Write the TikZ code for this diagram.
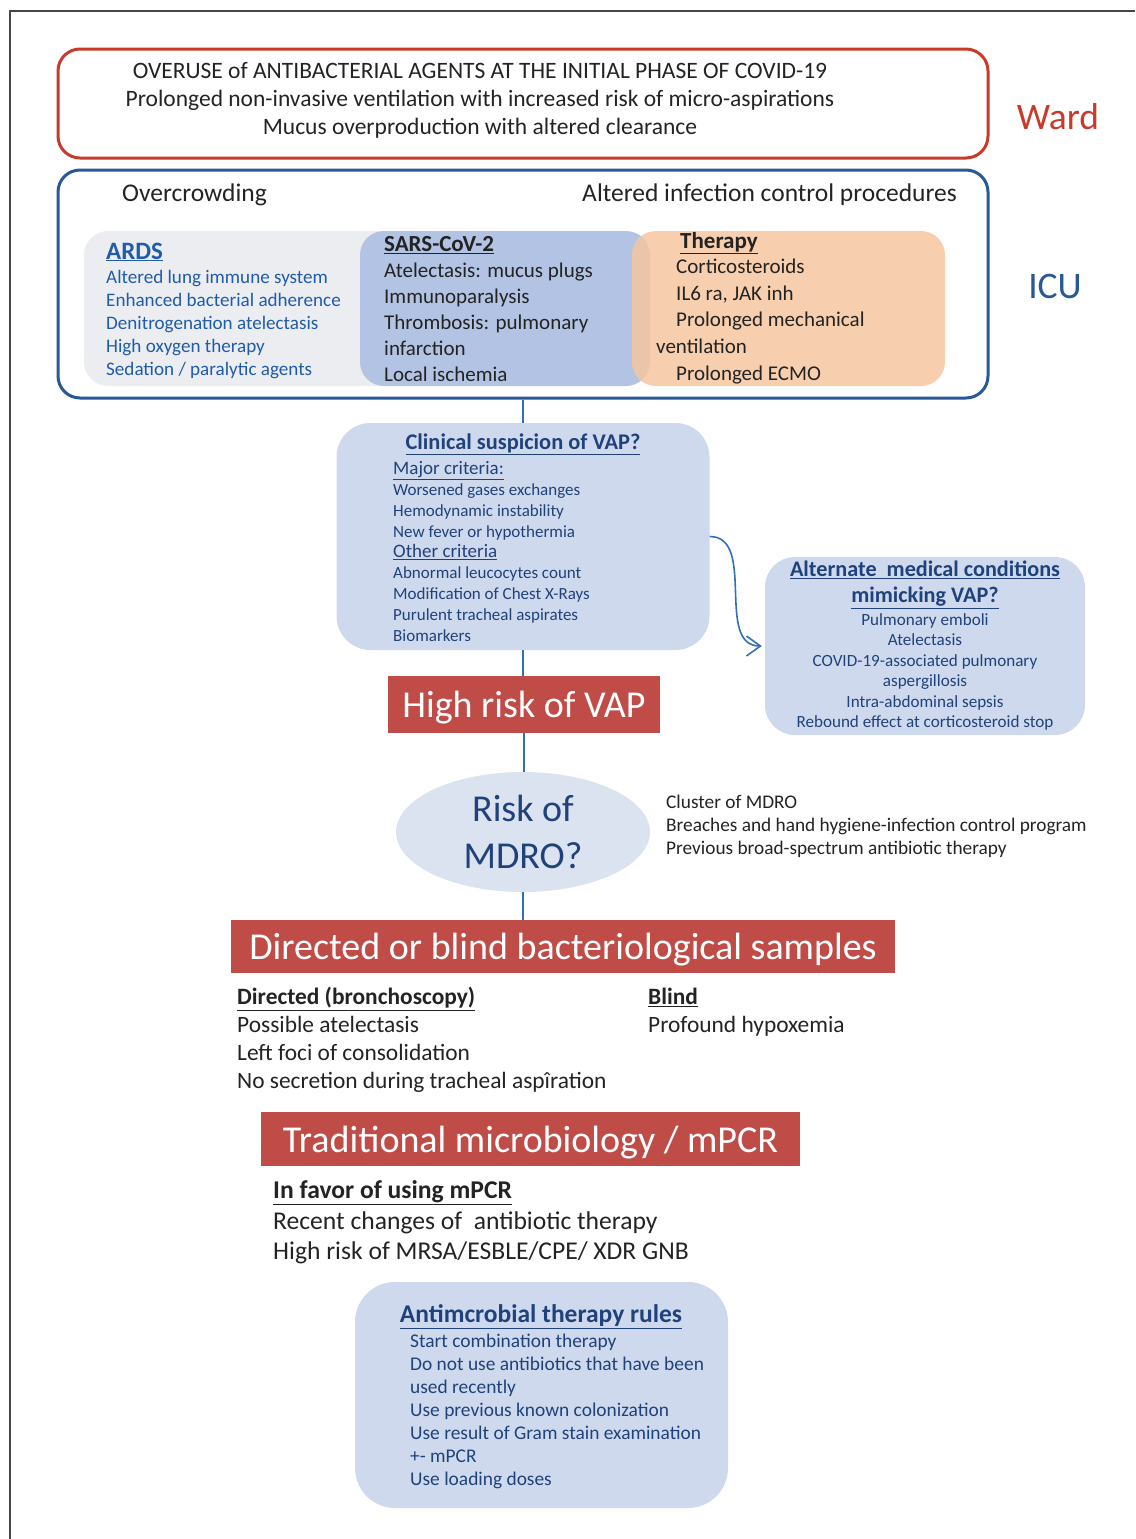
\documentclass[tikz,border=0pt]{standalone}
\usepackage{fontspec}
\setmainfont{Carlito}
\usetikzlibrary{arrows.meta,shapes.geometric}
\definecolor{wardred}{RGB}{200,58,42}
\definecolor{icublue}{RGB}{40,88,150}
\definecolor{ardsgray}{RGB}{236,237,241}
\definecolor{sarsblue}{RGB}{178,195,228}
\definecolor{therapyorange}{RGB}{246,198,160}
\definecolor{paleblue}{RGB}{207,217,237}
\definecolor{ovalblue}{RGB}{219,227,241}
\definecolor{boxred}{RGB}{192,76,72}
\definecolor{linkblue}{RGB}{50,112,182}
\definecolor{ardstext}{RGB}{32,92,168}
\definecolor{darkblue}{RGB}{32,66,122}
\definecolor{inktext}{RGB}{35,35,35}
\definecolor{framegray}{RGB}{70,70,70}
\newcommand\setfs[2]{\fontsize{#1}{#2}\selectfont}
\newcommand\uline[1]{\underline{#1}}
\begin{document}
\begin{tikzpicture}[x=1pt,y=-1pt,
  zone/.style={draw, line width=3pt, rounded corners=22pt},
  panel/.style={rounded corners=24pt, inner sep=0pt},
  redbar/.style={fill=boxred, text=white, inner sep=0pt, text depth=0pt, font=\setfs{38}{40}},
  link/.style={draw=linkblue, line width=1.6pt},
  txt/.style={inner sep=0pt, align=left}]
\useasboundingbox (0,0) rectangle (1135,1539);
\draw[framegray, line width=2.5pt] (1135,11) -- (10,11) -- (10,1539);

% Ward and ICU frames
\node[zone, draw=wardred, minimum width=930pt, minimum height=109pt] (ward) at (523,103.5) {};
\node[zone, draw=icublue, minimum width=930pt, minimum height=228pt] (icu) at (523,284) {};
\node[txt, align=center, text=inktext, font=\setfs{23.5}{28}] (wardtext) at (480,100)
  {OVERUSE of ANTIBACTERIAL AGENTS AT THE INITIAL PHASE OF COVID-19\\
   Prolonged non-invasive ventilation with increased risk of micro-aspirations\\
   Mucus overproduction with altered clearance};
\node[text=wardred, font=\setfs{37.5}{40}] (wardlabel) at (1058,117) {Ward};
\node[text=icublue, font=\setfs{37.5}{40}] (iculabel) at (1055,286) {ICU};
\node[txt, anchor=west, text=inktext, font=\setfs{25.5}{28}] (crowd) at (122,195) {Overcrowding};
\node[txt, anchor=east, text=inktext, font=\setfs{25.5}{28}] (control) at (957,195) {Altered infection control procedures};

% three overlapping panels
\node[panel, fill=ardsgray, minimum width=316pt, minimum height=155pt] (ards) at (242,308.5) {};
\node[panel, fill=sarsblue, minimum width=290pt, minimum height=155pt] (sars) at (505,308.5) {};
\node[panel, fill=therapyorange, fill opacity=0.85, minimum width=313pt, minimum height=155pt] (therapy) at (788.5,308.5) {};

\node[txt, anchor=west, text=ardstext, font=\bfseries\setfs{25}{27}] (ardstitle) at (106,252) {\uline{ARDS}};
\node[txt, anchor=west, text=ardstext, font=\setfs{19.1}{23}] (ardsitems) at (106,325)
  {Altered lung immune system\\Enhanced bacterial adherence\\Denitrogenation atelectasis\\
   High oxygen therapy\\Sedation / paralytic agents};
\node[txt, anchor=west, text=inktext, font=\bfseries\setfs{23}{25}] (sarstitle) at (384,245) {\uline{SARS-CoV-2}};
\node[txt, anchor=west, text=inktext, font=\setfs{21}{26}] (sarsitems) at (384,322)
  {Atelectasis: mucus plugs\\Immunoparalysis\\Thrombosis: pulmonary\\infarction\\Local ischemia};
\node[txt, anchor=west, text=inktext, font=\bfseries\setfs{23}{25}] (therapytitle) at (680,243) {\uline{Therapy}};
\node[txt, anchor=west, text=inktext, font=\setfs{21}{26.7}] (therapyitems) at (656,321.5)
  {\hspace*{20pt}Corticosteroids\\\hspace*{20pt}IL6 ra, JAK inh\\\hspace*{20pt}Prolonged mechanical\\
   ventilation\\\hspace*{20pt}Prolonged ECMO};

% clinical suspicion
\node[panel, fill=paleblue, rounded corners=34pt, minimum width=373pt, minimum height=227pt] (vap) at (523,536.5) {};
\node[text=darkblue, inner sep=0pt, font=\bfseries\setfs{22.4}{24}] (vaptitle) at (523,444) {\uline{Clinical suspicion of VAP?}};
\node[txt, anchor=west, text=darkblue, font=\setfs{17}{20.9}] (vapitems) at (393,551.5)
  {{\setfs{19}{20.9}\uline{Major criteria:}}\\Worsened gases exchanges\\Hemodynamic instability\\
   New fever or hypothermia\\{\setfs{19}{20.9}\uline{Other criteria}}\\Abnormal leucocytes count\\
   Modification of Chest X-Rays\\Purulent tracheal aspirates\\Biomarkers};

% alternate conditions
\node[panel, fill=paleblue, rounded corners=30pt, minimum width=320pt, minimum height=178pt] (alt) at (925,646) {};
\node[txt, align=center, text=darkblue, font=\bfseries\setfs{22.2}{26}] (alttitle) at (925,585)
  {\uline{Alternate\ \ medical conditions}\\\uline{mimicking VAP?}};
\node[txt, align=center, text=darkblue, font=\setfs{17.1}{20.4}] (altitems) at (925,672)
  {Pulmonary emboli\\Atelectasis\\COVID-19-associated pulmonary\\aspergillosis\\
   Intra-abdominal sepsis\\Rebound effect at corticosteroid stop};

% main column
\node[redbar, minimum width=272pt, minimum height=57pt] (highrisk) at (524,704.5) {High risk of VAP};
\node[ellipse, fill=ovalblue, inner sep=0pt, minimum width=254pt, minimum height=120pt] (mdro) at (523,832) {};
\node[txt, align=center, text=darkblue, font=\setfs{38}{47}] (mdrotext) at (523,832) {Risk of\\MDRO?};
\node[txt, anchor=west, text=inktext, font=\setfs{19.3}{23}] (mdroitems) at (666,826)
  {Cluster of MDRO\\Breaches and hand hygiene-infection control program\\Previous broad-spectrum antibiotic therapy};
\node[redbar, minimum width=664pt, minimum height=53pt] (samples) at (563,946.5) {Directed or blind bacteriological samples};
\node[txt, anchor=west, text=inktext, font=\setfs{23.4}{28}] (directed) at (237,1040)
  {\textbf{\uline{Directed (bronchoscopy)}}\\Possible atelectasis\\Left foci of consolidation\\
   No secretion during tracheal aspîration};
\node[txt, anchor=west, text=inktext, font=\setfs{23.4}{28}] (blind) at (648,1012)
  {\textbf{\uline{Blind}}\\Profound hypoxemia};
\node[redbar, minimum width=539pt, minimum height=54pt] (micro) at (530.5,1139) {Traditional microbiology / mPCR};
\node[txt, anchor=west, text=inktext, font=\setfs{25.6}{30.5}] (favor) at (273,1222.5)
  {\textbf{\uline{In favor of using mPCR}}\\Recent changes of\ \ antibiotic therapy\\High risk of MRSA/ESBLE/CPE/ XDR GNB};

% antimicrobial rules
\node[panel, fill=paleblue, rounded corners=40pt, minimum width=373pt, minimum height=226pt] (rules) at (541.5,1395) {};
\node[text=darkblue, inner sep=0pt, font=\bfseries\setfs{25.5}{27}] (rulestitle) at (541,1317) {\uline{Antimcrobial therapy rules}};
\node[txt, anchor=west, text=darkblue, font=\setfs{19.4}{23}] (rulesitems) at (410,1411)
  {Start combination therapy\\Do not use antibiotics that have been\\used recently\\
   Use previous known colonization\\Use result of Gram stain examination\\+- mPCR\\Use loading doses};

% connectors
\foreach \a/\b in {icu/vap, vap/highrisk, highrisk/mdro}
  \draw[link] (\a.south) -- (\a.south |- \b.north);
\draw[link] (mdro.south) -- (mdro.south |- samples.north);
\draw[link, -{Straight Barb[length=14pt, width=20pt, line width=1.6pt]}]
  (vap.east) to[out=0, in=180] ([xshift=-3pt]alt.west);
\end{tikzpicture}
\end{document}
